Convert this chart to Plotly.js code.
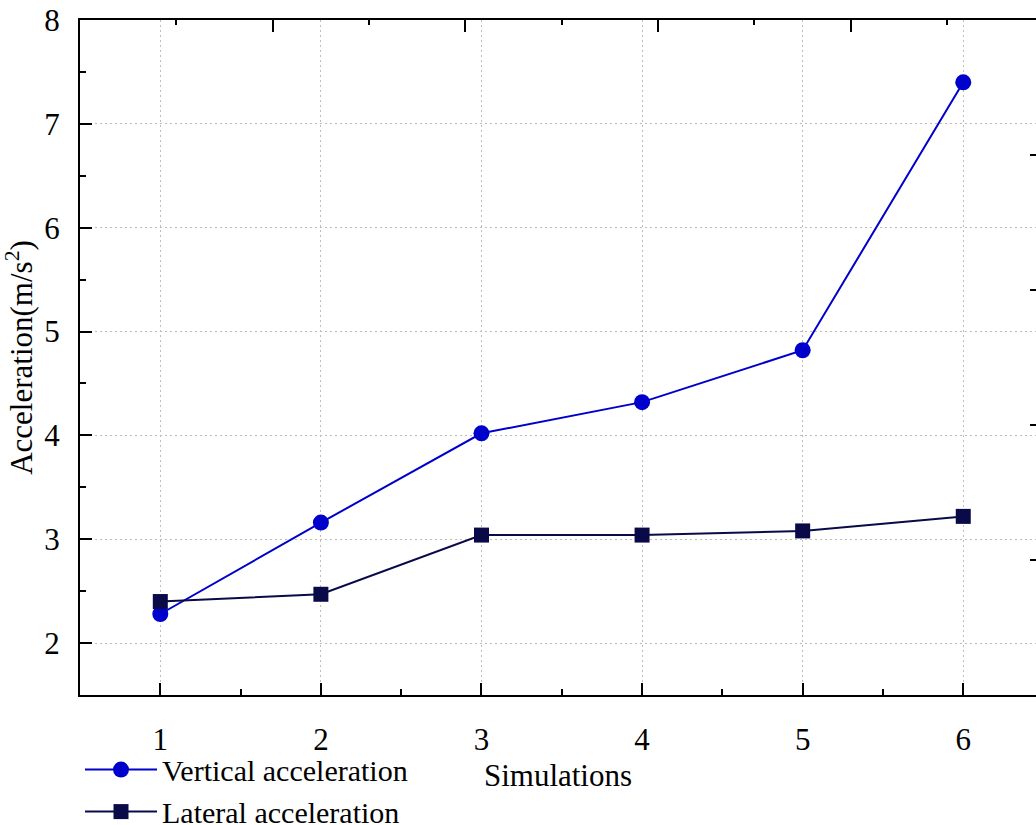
<!DOCTYPE html>
<html>
<head>
<meta charset="utf-8">
<script src="https://cdn.plot.ly/plotly-3.0.1.min.js"></script>
<style>html,body{margin:0;padding:0;overflow:hidden;background:#fff;}</style>
</head>
<body>
<div id="chart" style="width:1036px;height:825px;"></div>
<script>
const simulations = [1, 2, 3, 4, 5, 6];
const verticalAcc = [2.28, 3.16, 4.02, 4.32, 4.82, 7.40];
const lateralAcc = [2.40, 2.47, 3.04, 3.04, 3.08, 3.22];
const seriesNames = ["Vertical acceleration", "Lateral acceleration"];
const xTickVals = [1, 2, 3, 4, 5, 6];
const yTickVals = [2, 3, 4, 5, 6, 7, 8];

const FONT = "Liberation Serif, Times New Roman, serif";
const FS = 31;

const traces = [
  {
    x: simulations, y: verticalAcc, name: seriesNames[0],
    mode: "lines+markers", type: "scatter",
    line: {color: "#0000CC", width: 2},
    marker: {symbol: "circle", size: 16, color: "#0000CC"}
  },
  {
    x: simulations, y: lateralAcc, name: seriesNames[1],
    mode: "lines+markers", type: "scatter",
    line: {color: "#0A0A48", width: 2},
    marker: {symbol: "square", size: 15, color: "#0A0A48"}
  },
  // invisible traces to activate decorative top/right tick axes
  {x: [0], y: [0], xaxis: "x2", yaxis: "y", showlegend: false, hoverinfo: "skip", mode: "markers", marker: {opacity: 0}},
  {x: [1], y: [0], xaxis: "x", yaxis: "y2", showlegend: false, hoverinfo: "skip", mode: "markers", marker: {opacity: 0}}
];

const layout = {
  width: 1036, height: 825,
  margin: {l: 80, r: 0, t: 20, b: 130, autoexpand: false},
  paper_bgcolor: "#fff", plot_bgcolor: "#fff",
  font: {family: FONT, size: FS, color: "#000"},
  showlegend: true,
  legend: {
    x: 0.0, xanchor: "left", y: -0.072, yanchor: "top",
    orientation: "v", bgcolor: "rgba(0,0,0,0)",
    font: {family: FONT, size: 30, color: "#000"},
    itemwidth: 72, tracegroupgap: 0
  },
  xaxis: {
    range: [0.5, 6.453],
    tickvals: xTickVals, ticks: "inside", ticklen: 12, tickwidth: 2, tickcolor: "#000",
    minor: {dtick: 0.5, tick0: 0.5, ticks: "inside", ticklen: 6, tickwidth: 2, tickcolor: "#000", showgrid: false},
    showline: true, linecolor: "#000", linewidth: 2, mirror: false,
    showgrid: true, gridcolor: "#bdbdbd", gridwidth: 1, griddash: "2px,3px",
    zeroline: false, automargin: false,
    ticklabelstandoff: 16,
    tickfont: {family: FONT, size: FS},
    title: {text: "Simulations", font: {family: FONT, size: FS}, standoff: 8}
  },
  xaxis2: {
    overlaying: "x", side: "top", range: [0, 4.961],
    dtick: 1, tick0: 0, ticks: "inside", ticklen: 12, tickwidth: 2, tickcolor: "#000",
    minor: {dtick: 0.5, tick0: 0, ticks: "inside", ticklen: 5, tickwidth: 2, tickcolor: "#000", showgrid: false},
    showticklabels: false, showgrid: false, zeroline: false,
    showline: true, linecolor: "#000", linewidth: 2
  },
  yaxis: {
    range: [1.5, 8],
    tickvals: yTickVals, ticks: "inside", ticklen: 12, tickwidth: 2, tickcolor: "#000",
    minor: {dtick: 0.5, tick0: 0.5, ticks: "inside", ticklen: 6, tickwidth: 2, tickcolor: "#000", showgrid: false},
    showline: true, linecolor: "#000", linewidth: 2, mirror: false,
    showgrid: true, gridcolor: "#bdbdbd", gridwidth: 1, griddash: "2px,3px",
    zeroline: false, automargin: false,
    ticklabelstandoff: 12,
    tickfont: {family: FONT, size: FS},
    title: {text: "Acceleration(m/s<sup>2</sup>)", font: {family: FONT, size: FS}, standoff: 5}
  },
  yaxis2: {
    overlaying: "y", side: "right", range: [0, 5],
    dtick: 1, tick0: 0, ticks: "inside", ticklen: 6, tickwidth: 2, tickcolor: "#000",
    showticklabels: false, showgrid: false, zeroline: false, showline: false
  }
};

Plotly.newPlot("chart", traces, layout, {displayModeBar: false, staticPlot: true});
</script>
</body>
</html>
